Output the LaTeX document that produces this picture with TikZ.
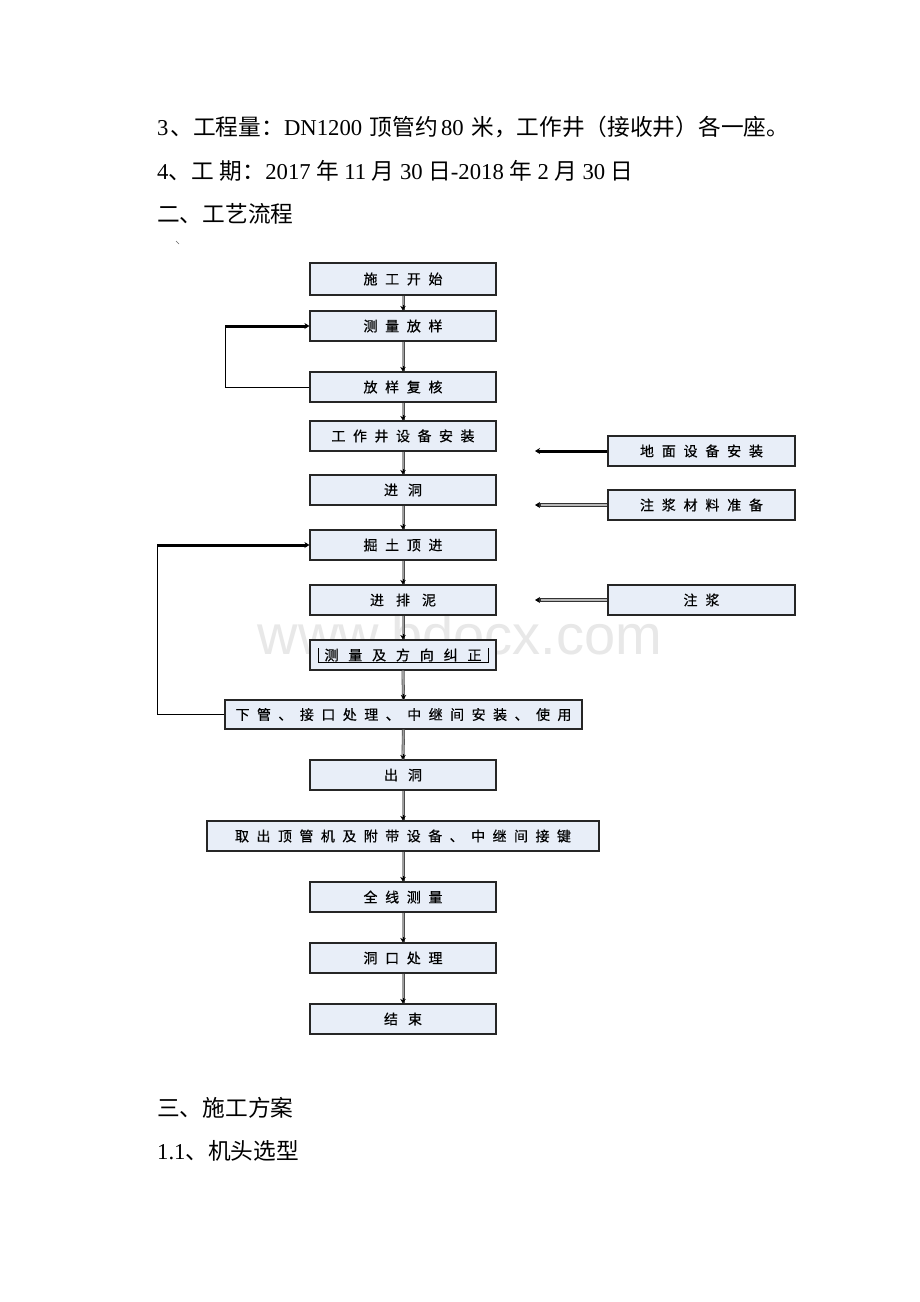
\documentclass[tikz,border=0pt]{standalone}
\usepackage{fontspec}
\setmainfont{Liberation Serif}
\newfontfamily\cjk{Noto Sans CJK SC}
\newfontfamily\cjkbox[FakeBold=0.5]{Noto Sans CJK SC}
\newfontfamily\wmfont{Liberation Sans}
\usetikzlibrary{arrows.meta}
\definecolor{boxfill}{HTML}{E8EEF8}
\def\spcx#1#2{#1\ifx\relax#2\else\hfill\expandafter\spcx\fi#2}
\newcommand\spc[2]{\hbox to #1{\spcx#2\relax}}
\newcommand\gp{\hspace{5.5pt}}
\begin{document}
\begin{tikzpicture}[x=1pt,y=-1pt,
  flowbox/.style={draw=black!85, line width=1.1pt, fill=boxfill, minimum width=186pt,
    minimum height=30pt, inner sep=0pt, font=\cjkbox\fontsize{14}{16}\selectfont},
  hdr/.style={anchor=base west, inner sep=0pt, font=\fontsize{22.7}{26}\selectfont},
  vshaft/.style={draw=black!70, line width=0.6pt, double=gray!75, double distance=1.8pt},
  vtip/.style={draw=black, line width=0.8pt, -{Stealth[length=4.5pt,width=5.5pt]}},
  sideblack/.style={draw=black, line width=3pt, -{Stealth[length=5pt,width=6pt,black]}},
  sideouter/.style={draw=black!80, line width=3.6pt, -{Stealth[length=5pt,width=6pt,black]}},
  sideinner/.style={draw=gray!55, line width=1.6pt},
  loopthin/.style={draw=black, line width=0.9pt},
  loopthick/.style={draw=black, line width=3pt, -{Stealth[length=5pt,width=6pt]}}
]
\useasboundingbox (0,0) rectangle (920,1302);
\fill[white] (0,0) rectangle (920,1302);

% header text
\node[hdr] (h1) at (157,135) {3\hspace{2pt}{\cjk 、工程量：}DN1200\hspace{2pt} {\cjk 顶管约}\hspace{3pt}80\hspace{2pt} {\cjk 米，工作井（接收井）各一座。}};
\node[hdr] (h2) at (157,179) {4{\cjk 、工\hspace{6pt}期：}2017\gp{\cjk 年}\gp 11\gp{\cjk 月}\gp 30\gp{\cjk 日}-2018\gp{\cjk 年}\gp 2\gp{\cjk 月}\gp 30\gp{\cjk 日}};
\node[hdr] (h3) at (157,222) {\cjk 二、工艺流程};
\draw[black!60, line width=0.6pt] (176,241) -- (179,244);

% watermark
\node[text=gray!18, font=\wmfont\fontsize{56}{60}\selectfont, inner sep=0pt] (wm) at (460,634) {www.bdocx.com};

% main column
\node[flowbox, minimum height=32pt] (s1) at (403,279) {\spc{79pt}{施工开始}};
\node[flowbox] (s2) at (403,326) {\spc{79pt}{测量放样}};
\node[flowbox] (s3) at (403,387) {\spc{79pt}{放样复核}};
\node[flowbox] (s4) at (403,436) {\spc{143pt}{工作井设备安装}};
\node[flowbox] (s5) at (403,490) {\spc{38pt}{进洞}};
\node[flowbox] (s6) at (403,545) {\spc{79pt}{掘土顶进}};
\node[flowbox] (s7) at (403,600) {\spc{66pt}{进排泥}};
\node[flowbox] (s8) at (403,655) {\spc{157pt}{测量及方向纠正}};
\node[flowbox, minimum width=357pt, minimum height=29pt] (s9) at (403.5,714.5) {\spc{336pt}{下管、接口处理、中继间安装、使用}};
\node[flowbox] (s10) at (403,775) {\spc{38pt}{出洞}};
\node[flowbox, minimum width=392pt] (s11) at (403,836) {\spc{336pt}{取出顶管机及附带设备、中继间接键}};
\node[flowbox] (s12) at (403,897) {\spc{79pt}{全线测量}};
\node[flowbox] (s13) at (403,958) {\spc{79pt}{洞口处理}};
\node[flowbox] (s14) at (403,1019) {\spc{38pt}{结束}};

% bracket marks inside s8
\draw[black, line width=0.8pt] (318,648) -- (318,662) -- (488,662) -- (488,648);

% right column
\node[flowbox, minimum width=187pt] (r1) at (701.5,451) {\spc{123pt}{地面设备安装}};
\node[flowbox, minimum width=187pt] (r2) at (701.5,505) {\spc{123pt}{注浆材料准备}};
\node[flowbox, minimum width=187pt] (r3) at (701.5,600) {\spc{36pt}{注浆}};

% vertical connectors
\foreach \a/\b in {s1/s2,s2/s3,s3/s4,s4/s5,s5/s6,s6/s7,s7/s8,s8/s9,s9/s10,s10/s11,s11/s12,s12/s13,s13/s14}{
  \draw[vshaft] (\a.south) -- (\b.north);
  \draw[vtip] ([yshift=5pt]\b.north) -- (\b.north);
}

% side inputs
\coordinate (a1) at (535,451);
\coordinate (a2) at (535,505);
\coordinate (a3) at (535,600);
\coordinate (a2i) at (541,505);
\coordinate (a3i) at (541,600);
\draw[sideblack] (r1.west) -- (a1);
\draw[sideouter] (r2.west) -- (a2);
\draw[sideinner] (r2.west) -- (a2i);
\draw[sideouter] (r3.west) -- (a3);
\draw[sideinner] (r3.west) -- (a3i);

% feedback loops
\coordinate (l1b) at (225,387);
\coordinate (l1t) at (225,326);
\draw[loopthin] (s3.west) -- (l1b) -- (l1t);
\draw[loopthick] (l1t) -- (s2.west);
\coordinate (l2b) at (157,714.5);
\coordinate (l2t) at (157,545);
\draw[loopthin] (s9.west) -- (l2b) -- (l2t);
\draw[loopthick] (l2t) -- (s6.west);

% footer text
\node[hdr] (f1) at (157,1116) {\cjk 三、施工方案};
\node[hdr] (f2) at (157,1159) {1.1{\cjk 、机头选型}};
\end{tikzpicture}
\end{document}
